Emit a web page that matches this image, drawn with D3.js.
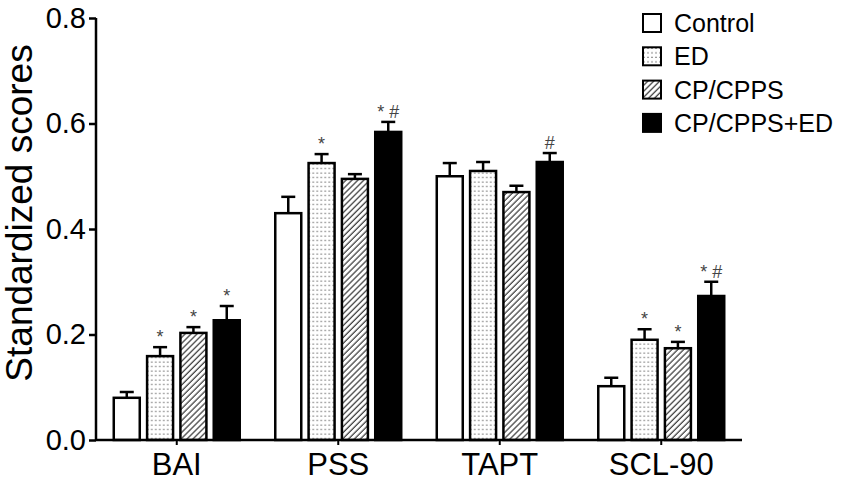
<!DOCTYPE html>
<html>
<head>
<meta charset="utf-8">
<script src="https://cdn.jsdelivr.net/npm/d3@7"></script>
<style>
  body { margin: 0; background: #fff; }
  text { font-family: "Liberation Sans", Arial, sans-serif; }
</style>
</head>
<body>
<div id="chart"></div>
<script>
// data
const categories = ["BAI", "PSS", "TAPT", "SCL-90"];
const groups = ["Control", "ED", "CP/CPPS", "CP/CPPS+ED"];

const controlMeans = [0.080, 0.430, 0.500, 0.102];
const controlErrs  = [0.011, 0.031, 0.025, 0.016];
const edMeans      = [0.159, 0.525, 0.510, 0.190];
const edErrs       = [0.017, 0.017, 0.017, 0.020];
const cpMeans      = [0.203, 0.495, 0.470, 0.174];
const cpErrs       = [0.011, 0.009, 0.012, 0.012];
const cpEdMeans    = [0.227, 0.584, 0.527, 0.273];
const cpEdErrs     = [0.027, 0.019, 0.017, 0.027];

// significance marks per group, per category
const controlMarks = ["", "", "", ""];
const edMarks      = ["*", "*", "", "*"];
const cpMarks      = ["*", "", "", "*"];
const cpEdMarks    = ["*", "* #", "#", "* #"];

const yTicks = [0.0, 0.2, 0.4, 0.6, 0.8];

const means = [controlMeans, edMeans, cpMeans, cpEdMeans];
const errs = [controlErrs, edErrs, cpErrs, cpEdErrs];
const marks = [controlMarks, edMarks, cpMarks, cpEdMarks];

const width = 850, height = 483;
const plotLeft = 96, plotRight = 742, plotTop = 18, plotBottom = 440;

const svg = d3.select("#chart").append("svg")
  .attr("width", width)
  .attr("height", height);

// fill patterns
const defs = svg.append("defs");
const dots = defs.append("pattern")
  .attr("id", "dots")
  .attr("patternUnits", "userSpaceOnUse")
  .attr("width", 4)
  .attr("height", 4.5);
dots.append("rect").attr("width", 4).attr("height", 4.5).attr("fill", "#fff");
dots.append("circle").attr("cx", 2).attr("cy", 2).attr("r", 0.75).attr("fill", "#666");

const hatch = defs.append("pattern")
  .attr("id", "hatch")
  .attr("patternUnits", "userSpaceOnUse")
  .attr("width", 4.2)
  .attr("height", 4.2)
  .attr("patternTransform", "rotate(45)");
hatch.append("rect").attr("width", 4.2).attr("height", 4.2).attr("fill", "#fff");
hatch.append("line")
  .attr("x1", 1).attr("y1", 0).attr("x2", 1).attr("y2", 4.2)
  .attr("stroke", "#222").attr("stroke-width", 1.1);

const fills = ["#fff", "url(#dots)", "url(#hatch)", "#000"];

const x0 = d3.scaleBand()
  .domain(categories)
  .range([plotLeft, plotRight])
  .paddingInner(0.22)
  .paddingOuter(0.11);

const x1 = d3.scaleBand()
  .domain(groups)
  .range([0, x0.bandwidth()])
  .paddingInner(0.22);

const y = d3.scaleLinear()
  .domain([0, 0.8])
  .range([plotBottom, plotTop]);

// bars
categories.forEach((cat, ci) => {
  const g = svg.append("g").attr("transform", `translate(${x0(cat)},0)`);
  groups.forEach((grp, gi) => {
    const v = means[gi][ci];
    const e = errs[gi][ci];
    const bx = x1(grp);
    const bw = x1.bandwidth();
    const cx = bx + bw / 2;

    // error bar (upper only)
    g.append("line")
      .attr("x1", cx).attr("x2", cx)
      .attr("y1", y(v)).attr("y2", y(v + e))
      .attr("stroke", "#000").attr("stroke-width", 2.5);
    g.append("line")
      .attr("x1", cx - 7).attr("x2", cx + 7)
      .attr("y1", y(v + e)).attr("y2", y(v + e))
      .attr("stroke", "#000").attr("stroke-width", 2.5);

    g.append("rect")
      .attr("x", bx)
      .attr("y", y(v))
      .attr("width", bw)
      .attr("height", y(0) - y(v))
      .attr("fill", fills[gi])
      .attr("stroke", "#000")
      .attr("stroke-width", 2.5);

    const m = marks[gi][ci];
    if (m) {
      g.append("text")
        .attr("x", cx)
        .attr("y", y(v + e) - 4)
        .attr("text-anchor", "middle")
        .style("font-size", "18px")
        .attr("fill", "#444")
        .text(m);
    }
  });
});

// y axis
const yAxis = d3.axisLeft(y)
  .tickValues(yTicks)
  .tickFormat(d3.format(".1f"))
  .tickSize(7)
  .tickPadding(3);
const yg = svg.append("g")
  .attr("transform", `translate(${plotLeft},0)`)
  .call(yAxis);
yg.select(".domain").attr("stroke-width", 2.5).attr("d", `M0,${plotTop}V${plotBottom}`);
yg.selectAll(".tick line").attr("stroke-width", 2.5);
yg.selectAll(".tick text").style("font-size", "29px").attr("fill", "#000");

// x axis
const xAxis = d3.axisBottom(x0).tickSize(5).tickPadding(8);
const xg = svg.append("g")
  .attr("transform", `translate(0,${plotBottom})`)
  .call(xAxis);
xg.select(".domain").attr("stroke-width", 2.5).attr("d", `M${plotLeft},0H${plotRight}`);
xg.selectAll(".tick line").attr("stroke-width", 2);
xg.selectAll(".tick text").style("font-size", "31px").attr("fill", "#000").attr("dy", "0.72em");

// y label
svg.append("text")
  .attr("transform", `translate(32,${(plotTop + plotBottom) / 2 - 16}) rotate(-90)`)
  .attr("text-anchor", "middle")
  .style("font-size", "37px")
  .text("Standardized scores");

// legend
const legend = svg.append("g").attr("transform", "translate(642,13)");
groups.forEach((grp, gi) => {
  const row = legend.append("g").attr("transform", `translate(0,${gi * 33.3})`);
  row.append("rect")
    .attr("x", 1).attr("y", 1)
    .attr("width", 18).attr("height", 18)
    .attr("fill", fills[gi])
    .attr("stroke", "#000")
    .attr("stroke-width", 2);
  row.append("text")
    .attr("x", 32)
    .attr("y", 19)
    .style("font-size", "25px")
    .text(grp);
});
</script>
</body>
</html>
